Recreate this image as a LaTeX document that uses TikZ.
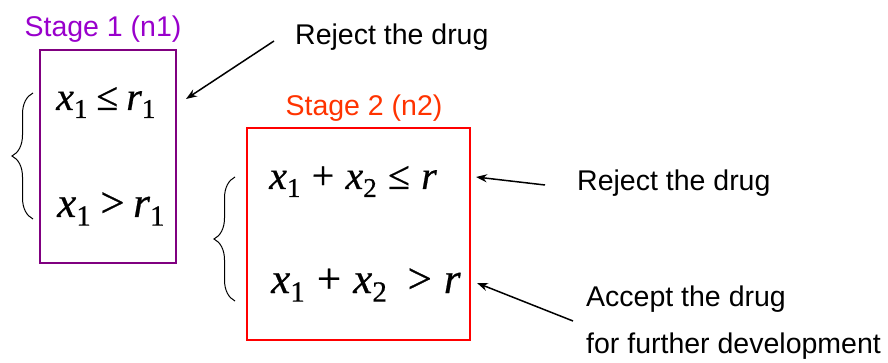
\documentclass[tikz,border=0pt]{standalone}
\usepackage{fontspec}
\usepackage{graphicx}
\setmainfont{Liberation Sans}
\newfontfamily\mathserif[FakeBold=0.5]{Liberation Serif}
\usetikzlibrary{arrows.meta,decorations.pathreplacing}
\definecolor{stageonecol}{RGB}{153,0,204}
\definecolor{boxonecol}{RGB}{128,0,128}
\definecolor{stagetwocol}{RGB}{255,51,0}
\definecolor{boxtwocol}{RGB}{255,0,0}
\newcommand\mvar[1]{{\mathserif\itshape #1}}
\newcommand\msub[1]{\raisebox{-0.2em}{\scalebox{0.68}{\mathserif #1}}}
\newcommand\mrel[1]{\hspace{0.28em}{\mathserif #1}\hspace{0.28em}}
\newcommand\nrel[1]{\hspace{0.22em}{\mathserif #1}\hspace{0.2em}}
\tikzset{
  lbl/.style={font=\fontsize{28.5}{32}\selectfont, inner sep=0pt, anchor=base west},
  mth/.style={font=\fontsize{40}{44}\selectfont, inner sep=0pt, anchor=base west},
  mthb/.style={font=\fontsize{43}{47}\selectfont, inner sep=0pt, anchor=base west},
  stagebox/.style={draw, line width=2pt, inner sep=0pt},
  pointer/.style={line width=1.5pt, -{Stealth[length=11pt,width=8pt]}},
  curly/.style={line width=1pt, decorate, decoration={brace, amplitude=21pt}}
}
\begin{document}
\begin{tikzpicture}[x=1pt,y=-1pt]
\useasboundingbox (0,0) rectangle (888,363);
% boxes
\node[stagebox, draw=boxonecol, minimum width=136pt, minimum height=213pt] (s1) at (108,156.5) {};
\node[stagebox, draw=boxtwocol, minimum width=223pt, minimum height=212pt] (s2) at (358.5,234) {};
% stage labels
\node[lbl, text=stageonecol, anchor=base] (l1) at (103,37) {Stage 1 (n1)};
\node[lbl, text=stagetwocol, anchor=base] (l2) at (364,116) {Stage 2 (n2)};
% conditions
\node[mth] (m1) at (56,110) {\mvar{x}\msub{1}\nrel{≤}\mvar{r}\msub{1}};
\node[mthb] (m2) at (57,217) {\mvar{x}\msub{1}\nrel{>}\mvar{r}\msub{1}};
\node[mth] (m3) at (269,189) {\mvar{x}\msub{1}\mrel{+}\mvar{x}\msub{2}\mrel{≤}\mvar{r}};
\node[mthb] (m4) at (271,293) {\mvar{x}\msub{1}\mrel{+}\mvar{x}\msub{2}\hspace{0.2em}\mrel{>}\mvar{r}};
% decisions
\node[lbl] (t1) at (295,45) {Reject the drug};
\node[lbl] (t2) at (577,191) {Reject the drug};
\node[lbl] (t3) at (586,306) {Accept the drug};
\node[lbl] (t4) at (586,353) {for further development};
% braces
\coordinate (b1a) at (33,219);
\coordinate (b1b) at (33,93);
\coordinate (b2a) at (235,301);
\coordinate (b2b) at (235,177);
\draw[curly] (b1a) -- (b1b);
\draw[curly] (b2a) -- (b2b);
% arrows
\coordinate (a1s) at (274,41);
\coordinate (a1e) at (186,99);
\coordinate (a2s) at (545,185);
\coordinate (a2e) at (476,177);
\coordinate (a3s) at (573,321);
\coordinate (a3e) at (477,283);
\draw[pointer] (a1s) -- (a1e);
\draw[pointer] (a2s) -- (a2e);
\draw[pointer] (a3s) -- (a3e);
\end{tikzpicture}
\end{document}
